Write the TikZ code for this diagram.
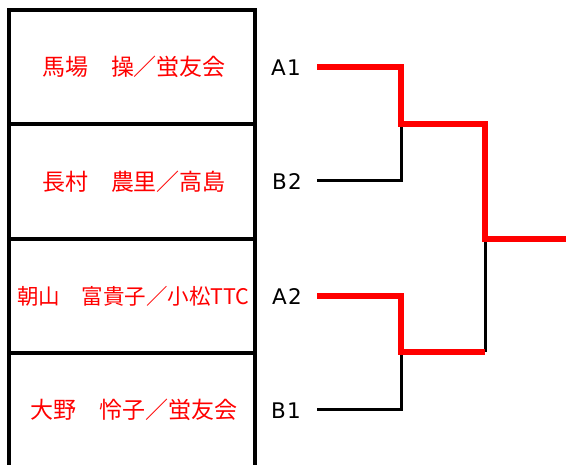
\documentclass[tikz,border=0pt]{standalone}
\usepackage{fontspec}
\newfontfamily\jp{Noto Sans CJK JP}
\newfontfamily\lab[LetterSpace=6]{DejaVu Sans}
\definecolor{winred}{RGB}{255,0,0}
\begin{document}
\begin{tikzpicture}[x=1pt,y=-1pt,
  boxline/.style={line width=3.5pt},
  redline/.style={draw=winred,line width=6pt,line join=miter},
  blkline/.style={draw=black,line width=3pt,line join=miter},
  playertext/.style={text=winred,font=\jp\fontsize{23}{23}\selectfont,inner sep=0pt,anchor=center},
  seedtext/.style={font=\lab\fontsize{21.5}{21.5}\selectfont,inner sep=0pt,anchor=center}]
\useasboundingbox (0,0) rectangle (566,465);
% table
\draw[boxline] (9,465) -- (9,10) -- (255,10) -- (255,465);
\draw[boxline] (7.5,10) -- (257,10);
\draw[boxline] (7.5,124) -- (257,124);
\draw[boxline] (7.5,239) -- (257,239);
\draw[boxline] (7.5,353) -- (257,353);
% names
\node[playertext] (n1) at (134,67) {馬場　操／蛍友会};
\node[playertext] (n2) at (134,182) {長村　農里／高島};
\node[playertext,font=\jp\fontsize{21.5}{21.5}\selectfont] (n3) at (133.5,296) {朝山　富貴子／小松TTC};
\node[playertext] (n4) at (134,410) {大野　怜子／蛍友会};
% seeds
\node[seedtext] (a1) at (286,68) {A1};
\node[seedtext] (b2) at (287,182) {B2};
\node[seedtext] (a2) at (287,297) {A2};
\node[seedtext] (b1) at (286,411) {B1};
% coordinates
\coordinate (sa1) at (317,67);
\coordinate (sb2) at (317,181);
\coordinate (sa2) at (317,296);
\coordinate (sb1) at (317,410);
\coordinate (m1) at (401,124);
\coordinate (m2) at (401,352);
\coordinate (f) at (485,239);
\coordinate (fb) at (485,352);
\coordinate (w) at (566,239);
% black lines
\draw[blkline] (sb2) -| (m1);
\draw[blkline] (sb1) -| (m2);
\draw[blkline] (f) -- (fb);
% red lines
\draw[redline] (sa1) -| (m1) -| (f) -- (w);
\draw[redline] (sa2) -| (m2) -- (fb);
\end{tikzpicture}
\end{document}
